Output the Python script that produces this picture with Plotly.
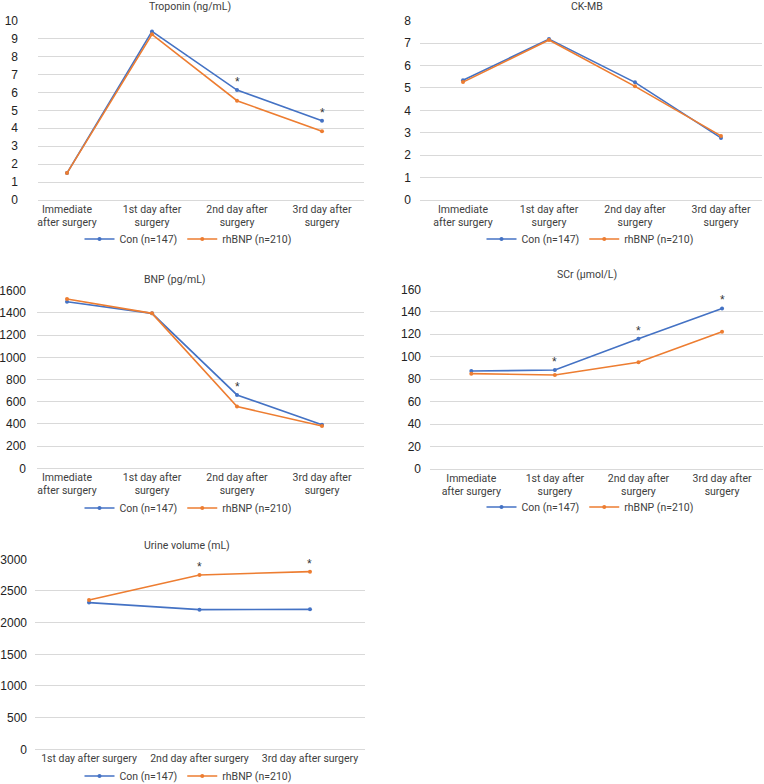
import plotly.graph_objects as go

W, H = 764, 784

# categorias
cat4 = ['Immediate<br>after surgery', '1st day after<br>surgery',
        '2nd day after<br>surgery', '3rd day after<br>surgery']
cat3 = ['1st day after surgery', '2nd day after surgery', '3rd day after surgery']

# Troponin (ng/mL)
trop_con = [1.5, 9.4, 6.13, 4.42]
trop_bnp = [1.5, 9.24, 5.54, 3.83]
trop_sig = [False, False, True, True]

# CK-MB
ckmb_con = [5.34, 7.18, 5.25, 2.77]
ckmb_bnp = [5.26, 7.14, 5.07, 2.86]
ckmb_sig = [False, False, False, False]

# BNP (pg/mL)
bnp_con = [1501, 1396, 661, 393]
bnp_bnp = [1525, 1396, 556, 381]
bnp_sig = [False, False, True, False]

# SCr (umol/L)
scr_con = [87.2, 88.1, 116, 143]
scr_bnp = [84.9, 83.7, 95, 122.3]
scr_sig = [False, True, True, True]

# Urine volume (mL)
uri_con = [2316, 2205, 2210]
uri_bnp = [2358, 2753, 2805]
uri_sig = [False, True, True]

BLUE = '#4472C4'
ORANGE = '#ED7D31'
GRID = '#d9d9d9'
NARROW = 'Roboto, Liberation Sans, sans-serif'
REG = 'Liberation Sans, Arial, sans-serif'


def fx(px):
    return px / W


def fy(py):
    return (H - py) / H


# (titulo, cats, con, bnp, sig, x0px, x1px, xrange, ytop_px, ybot_px, ymax, dtick, standoff, titulo xy, legenda y)
paineis = [
    ('Troponin (ng/mL)', cat4, trop_con, trop_bnp, trop_sig, 38, 364, [-0.341, 3.494], 20.7, 200, 10, 1, 19, (190, 7), 239),
    ('CK-MB', cat4, ckmb_con, ckmb_bnp, ckmb_sig, 420, 762, [-0.5, 3.477], 20.7, 200, 8, 1, 8, (587, 7), 239),
    ('BNP (pg/mL)', cat4, bnp_con, bnp_bnp, bnp_sig, 37, 364, [-0.353, 3.494], 290.7, 468.3, 1600, 200, 10, (175, 280), 508),
    ('SCr (μmol/L)', cat4, scr_con, scr_bnp, scr_sig, 430, 763, [-0.494, 3.49], 289.3, 469, 160, 20, 8, (587, 275), 507),
    ('Urine volume (mL)', cat3, uri_con, uri_bnp, uri_sig, 35, 365, [-0.489, 2.498], 559.3, 749.3, 3000, 500, 7, (187, 545), 776),
]

fig = go.Figure()
anots = []
lay = {}

for i, (tit, cats, con, bnp, sig, x0, x1, xr, yt, yb, ymax, dt_, so, tpos, ly) in enumerate(paineis):
    n = i + 1
    sfx = '' if n == 1 else str(n)
    leg = 'legend' if n == 1 else f'legend{n}'
    fig.add_trace(go.Scatter(x=cats, y=con, name='Con (n=147)', mode='lines+markers',
                             line=dict(color=BLUE, width=1.6), marker=dict(color=BLUE, size=4),
                             xaxis='x' + sfx, yaxis='y' + sfx, legend=leg))
    fig.add_trace(go.Scatter(x=cats, y=bnp, name='rhBNP (n=210)', mode='lines+markers',
                             line=dict(color=ORANGE, width=1.6), marker=dict(color=ORANGE, size=4),
                             xaxis='x' + sfx, yaxis='y' + sfx, legend=leg))
    lay['xaxis' + sfx] = dict(domain=[fx(x0), fx(x1)], anchor='y' + sfx, type='category',
                              range=xr, showgrid=False, zeroline=False, showline=False, automargin=False,
                              ticks='', tickfont=dict(family=NARROW, size=10.5, color='#404040'),
                              ticklabelstandoff=1)
    lay['yaxis' + sfx] = dict(domain=[fy(yb), fy(yt)], anchor='x' + sfx, range=[0, ymax],
                              dtick=dt_, showgrid=True, gridcolor=GRID, gridwidth=1, automargin=False,
                              zeroline=True, zerolinecolor=GRID, zerolinewidth=1, showline=False,
                              ticks='', tickfont=dict(family=REG, size=12, color='#222222'),
                              ticklabelstandoff=so)
    lay[leg] = dict(orientation='h', x=fx(188 if x0 < 382 else 590), y=fy(ly),
                    xanchor='center', yanchor='middle', bgcolor='rgba(0,0,0,0)',
                    font=dict(family=NARROW, size=10.5, color='#404040'),
                    itemwidth=30, tracegroupgap=0, borderwidth=0)
    anots.append(dict(text=tit, x=fx(tpos[0]), y=fy(tpos[1]), xref='paper', yref='paper',
                      showarrow=False, xanchor='center', yanchor='middle',
                      font=dict(family=NARROW, size=10.5, color='#404040')))
    # asteriscos de significancia
    for k, s in enumerate(sig):
        if s:
            anots.append(dict(text='*', x=cats[k], y=max(con[k], bnp[k]), xref='x' + sfx, yref='y' + sfx,
                              showarrow=False, yanchor='bottom', yshift=-1,
                              font=dict(family=REG, size=12, color='#333333')))

fig.update_layout(**lay)
fig.update_layout(annotations=anots, width=W, height=H, autosize=False,
                  margin=dict(l=0, r=0, t=0, b=0, autoexpand=False),
                  paper_bgcolor='white', plot_bgcolor='white', showlegend=True)

css = ("document.documentElement.style.margin='0';document.documentElement.style.overflow='hidden';"
       "document.body.style.margin='0';document.body.style.overflow='hidden';")
fig.write_html('out.html', config={'displayModeBar': False}, post_script=css)
